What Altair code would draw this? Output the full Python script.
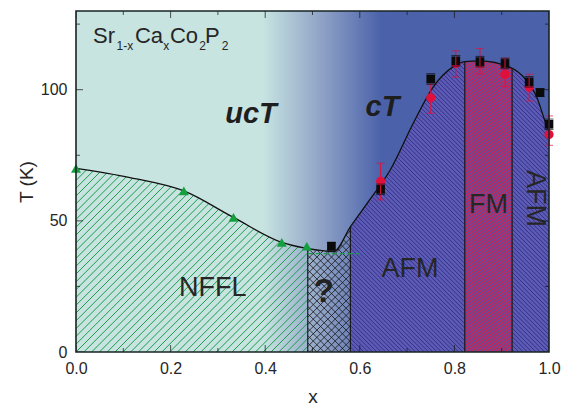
import altair as alt
import pandas as pd
import numpy as np

# ---------------- data ----------------
X_DOMAIN = [0.0, 1.0]
T_DOMAIN = [0.0, 130.0]

# green triangles (NFFL crossover)
tri_x = [0.0, 0.228, 0.333, 0.435, 0.488]
tri_T = [70.0, 61.4, 51.3, 41.8, 40.3]

# black squares with small error bars
sq_x = [0.54, 0.644, 0.75, 0.803, 0.854, 0.907, 0.958, 0.981, 1.0]
sq_T = [40.3, 62.0, 104.1, 111.0, 110.7, 110.0, 103.0, 98.9, 86.8]
sq_e = [1.5, 2.0, 2.0, 2.0, 2.0, 2.0, 2.0, 1.5, 2.0]

# red circles with error bars
rc_x = [0.644, 0.75, 0.803, 0.854, 0.907, 0.958, 1.0]
rc_T = [65.1, 96.9, 110.0, 110.0, 105.9, 100.9, 82.9]
rc_lo = [58.0, 91.0, 104.8, 106.0, 101.2, 95.7, 78.8]
rc_hi = [72.0, 102.0, 114.8, 115.7, 112.0, 105.9, 90.0]

# phase boundary line
bd_x = [0.0, 0.114, 0.228, 0.333, 0.435, 0.488, 0.545, 0.58, 0.62, 0.664,
        0.713, 0.755, 0.797, 0.822, 0.854, 0.918, 0.949, 0.974, 0.995, 1.0]
bd_T = [70.0, 66.5, 61.4, 51.3, 41.8, 39.5, 38.3, 47.7, 57.8, 69.3,
        87.2, 101.0, 108.7, 110.7, 111.0, 108.5, 104.2, 97.2, 86.4, 84.5]

# green dashed segment inside the "?" region
gd_x = [0.49, 0.60]
gd_T = [37.5, 37.5]

# phase regions
reg_name = ["NFFL", "Q", "AFM", "FM", "AFM2"]
reg_x0 = [0.0, 0.49, 0.58, 0.822, 0.922]
reg_x1 = [0.49, 0.58, 0.822, 0.922, 1.0]
# vertical region borders and where they meet the boundary
vl_x = [0.49, 0.58, 0.822, 0.922]
vl_T = [39.4, 47.7, 110.7, 108.3]

# text labels
lab_text = ["NFFL", "AFM", "FM"]
lab_x = [0.289, 0.706, 0.872]
lab_T = [21.3, 28.7, 52.9]

# axis ticks
x_major = [0.0, 0.2, 0.4, 0.6, 0.8, 1.0]
x_minor = [0.1, 0.3, 0.5, 0.7, 0.9]
y_major = [0, 50, 100]
y_minor = [25, 75, 125]

# ---------------- layout / style ----------------
W, H = 473, 341
FONT = "Liberation Sans"
TXT = "#262626"

grad = alt.LinearGradient(
    gradient="linear",
    stops=[
        alt.GradientStop(color="#c7e4e1", offset=0.0),
        alt.GradientStop(color="#c7e4e1", offset=0.395),
        alt.GradientStop(color="#8fa2c6", offset=0.52),
        alt.GradientStop(color="#4b62aa", offset=0.645),
        alt.GradientStop(color="#4b62aa", offset=1.0),
    ],
    x1=0, x2=1, y1=0, y2=0,
)

xs = alt.Scale(domain=X_DOMAIN, nice=False, zero=False)
ys = alt.Scale(domain=T_DOMAIN, nice=False, zero=False)

ax_x_lab = alt.Axis(orient="bottom", values=x_major, format=".1f", ticks=False,
                    domain=False, grid=False, labelPadding=8, labelFlush=False,
                    title="x", titleY=50, titleBaseline="alphabetic")
ax_y_lab = alt.Axis(orient="left", values=y_major, ticks=False, domain=False,
                    grid=False, labelPadding=9, labelFlush=False, title="T (K)",
                    titleX=-44, titleY=H / 2, titleAngle=-90,
                    titleBaseline="alphabetic", titleAlign="center")


def hatch(xa, xb, spacing, direction):
    """hatch segments (style) inside a vertical strip, in data units"""
    a, b = xa * W, xb * W
    rows = []
    if direction == "/":
        c = np.floor((a - H) / spacing) * spacing
        while c <= b:
            lo, hi = max(a, c), min(b, c + H)
            if hi > lo:
                rows.append((lo, lo - c, hi, hi - c))
            c += spacing
    else:
        c = np.floor(a / spacing) * spacing
        while c <= b + H:
            lo, hi = max(a, c - H), min(b, c)
            if hi > lo:
                rows.append((lo, c - lo, hi, c - hi))
            c += spacing
    df = pd.DataFrame(rows, columns=["px", "py", "px2", "py2"])
    return pd.DataFrame({"x": df.px / W, "T": df.py / H * T_DOMAIN[1],
                         "x2": df.px2 / W, "T2": df.py2 / H * T_DOMAIN[1]})


def rules(df, color, width):
    return alt.Chart(df).mark_rule(color=color, strokeWidth=width).encode(
        x=alt.X("x:Q", scale=xs, axis=None), x2="x2:Q",
        y=alt.Y("T:Q", scale=ys, axis=None), y2="T2:Q")


# background
bg_df = pd.DataFrame({"x": [X_DOMAIN[0]], "x2": [X_DOMAIN[1]],
                      "T": [T_DOMAIN[0]], "T2": [T_DOMAIN[1]]})
background = alt.Chart(bg_df).mark_rect(fill=grad).encode(
    x=alt.X("x:Q", scale=xs, axis=ax_x_lab), x2="x2:Q",
    y=alt.Y("T:Q", scale=ys, axis=ax_y_lab), y2="T2:Q")

# region tints (masked above the boundary)
reg_df = pd.DataFrame({"name": reg_name, "x": reg_x0, "x2": reg_x1,
                       "T": T_DOMAIN[0], "T2": T_DOMAIN[1]})
tint_df = reg_df[reg_df.name.isin(["AFM", "FM", "AFM2"])].copy()
tint_df["col"] = ["#5b5db4", "#5e4fa6", "#5b5db4"]
tints = alt.Chart(tint_df).mark_rect().encode(
    x=alt.X("x:Q", scale=xs, axis=None), x2="x2:Q",
    y=alt.Y("T:Q", scale=ys, axis=None), y2="T2:Q",
    color=alt.Color("col:N", scale=None))

h_nffl = rules(hatch(reg_x0[0], reg_x1[0], 7.8, "/"), "#1d9b4b", 1.0)
h_q = rules(pd.concat([hatch(reg_x0[1], reg_x1[1], 7.3, "/"),
                       hatch(reg_x0[1], reg_x1[1], 7.3, "\\")]), "#151515", 0.8)
h_afm = rules(pd.concat([hatch(reg_x0[2], reg_x1[2], 4.3, "\\"),
                         hatch(reg_x0[4], reg_x1[4], 4.3, "\\")]), "#3a2c8c", 1.0)
h_fm = rules(hatch(reg_x0[3], reg_x1[3], 3.4, "\\"), "#d42048", 1.1)

# mask above the boundary
bd_df = pd.DataFrame({"x": bd_x, "T": bd_T, "T2": T_DOMAIN[1]})
mask = alt.Chart(bd_df).mark_area(fill=grad, interpolate="monotone").encode(
    x=alt.X("x:Q", scale=xs, axis=None),
    y=alt.Y("T:Q", scale=ys, axis=None), y2="T2:Q")

vl_df = pd.DataFrame({"x": vl_x, "T": 0.0, "T2": vl_T})
vlines = alt.Chart(vl_df).mark_rule(color="#111", strokeWidth=1.1).encode(
    x=alt.X("x:Q", scale=xs, axis=None),
    y=alt.Y("T:Q", scale=ys, axis=None), y2="T2:Q")

bd_line = alt.Chart(bd_df).mark_line(color="#111", strokeWidth=1.3,
                                     interpolate="monotone").encode(
    x=alt.X("x:Q", scale=xs, axis=None), y=alt.Y("T:Q", scale=ys, axis=None))

gd_df = pd.DataFrame({"x": gd_x, "T": gd_T})
gdash = alt.Chart(gd_df).mark_line(color="#1d9b4b", strokeWidth=1.3,
                                   strokeDash=[5, 3]).encode(
    x=alt.X("x:Q", scale=xs, axis=None), y=alt.Y("T:Q", scale=ys, axis=None))

tri_df = pd.DataFrame({"x": tri_x, "T": tri_T})
tris = alt.Chart(tri_df).mark_point(shape="triangle-up", filled=True, size=100,
                                    color="#15a040", opacity=1).encode(
    x=alt.X("x:Q", scale=xs, axis=None), y=alt.Y("T:Q", scale=ys, axis=None))

rc_df = pd.DataFrame({"x": rc_x, "T": rc_T, "lo": rc_lo, "hi": rc_hi})
circles = alt.Chart(rc_df).mark_point(shape="circle", filled=True, size=85,
                                      color="#e0103c", opacity=1).encode(
    x=alt.X("x:Q", scale=xs, axis=None), y=alt.Y("T:Q", scale=ys, axis=None))
rc_bar = alt.Chart(rc_df).mark_rule(color="#e0103c", strokeWidth=1).encode(
    x=alt.X("x:Q", scale=xs, axis=None), y=alt.Y("lo:Q", scale=ys, axis=None), y2="hi:Q")
rc_cap_lo = alt.Chart(rc_df).mark_tick(color="#e0103c", orient="horizontal",
                                       size=8, thickness=1).encode(
    x=alt.X("x:Q", scale=xs, axis=None), y=alt.Y("lo:Q", scale=ys, axis=None))
rc_cap_hi = alt.Chart(rc_df).mark_tick(color="#e0103c", orient="horizontal",
                                       size=8, thickness=1).encode(
    x=alt.X("x:Q", scale=xs, axis=None), y=alt.Y("hi:Q", scale=ys, axis=None))

sq_df = pd.DataFrame({"x": sq_x, "T": sq_T,
                      "lo": np.array(sq_T) - np.array(sq_e),
                      "hi": np.array(sq_T) + np.array(sq_e)})
squares = alt.Chart(sq_df).mark_point(shape="square", filled=True, size=75,
                                      color="#0a0a0a", opacity=1).encode(
    x=alt.X("x:Q", scale=xs, axis=None), y=alt.Y("T:Q", scale=ys, axis=None))
sq_cap_hi = alt.Chart(sq_df).mark_tick(color="#0a0a0a", orient="horizontal",
                                       size=9, thickness=1).encode(
    x=alt.X("x:Q", scale=xs, axis=None), y=alt.Y("hi:Q", scale=ys, axis=None))
sq_cap_lo = alt.Chart(sq_df).mark_tick(color="#0a0a0a", orient="horizontal",
                                       size=9, thickness=1).encode(
    x=alt.X("x:Q", scale=xs, axis=None), y=alt.Y("lo:Q", scale=ys, axis=None))

# inward ticks on all four sides (half of each centred tick is clipped away)
xt_df = pd.DataFrame({"v": x_major + x_minor,
                      "len": [14] * len(x_major) + [8] * len(x_minor)})
yt_df = pd.DataFrame({"v": y_major + y_minor,
                      "len": [14] * len(y_major) + [8] * len(y_minor)})


def xticks(edge):
    return alt.Chart(xt_df).mark_tick(color="#111", orient="vertical",
                                      thickness=1, clip=True).encode(
        x=alt.X("v:Q", scale=xs, axis=None),
        y=alt.Y(datum=edge, scale=ys, axis=None),
        size=alt.Size("len:Q", scale=None))


def yticks(edge):
    return alt.Chart(yt_df).mark_tick(color="#111", orient="horizontal",
                                      thickness=1, clip=True).encode(
        y=alt.Y("v:Q", scale=ys, axis=None),
        x=alt.X(datum=edge, scale=xs, axis=None),
        size=alt.Size("len:Q", scale=None))


ticks = [xticks(T_DOMAIN[0]), xticks(T_DOMAIN[1]),
         yticks(X_DOMAIN[0]), yticks(X_DOMAIN[1])]

# texts
lab_df = pd.DataFrame({"t": lab_text, "x": lab_x, "T": lab_T})
labels = alt.Chart(lab_df).mark_text(font=FONT, fontSize=27, color=TXT,
                                     align="center", baseline="alphabetic").encode(
    x=alt.X("x:Q", scale=xs, axis=None), y=alt.Y("T:Q", scale=ys, axis=None),
    text="t:N")

rot_df = pd.DataFrame({"t": ["AFM"], "x": [0.9535], "T": [58.5]})
rot_label = alt.Chart(rot_df).mark_text(font=FONT, fontSize=27, color=TXT, angle=90,
                                        align="center", baseline="alphabetic").encode(
    x=alt.X("x:Q", scale=xs, axis=None), y=alt.Y("T:Q", scale=ys, axis=None),
    text="t:N")

ct_df = pd.DataFrame({"t": ["ucT", "cT"], "x": [0.370, 0.648], "T": [87.3, 90.0]})
ct_labels = alt.Chart(ct_df).mark_text(font=FONT, fontSize=29, fontWeight="bold",
                                       fontStyle="italic", color="#1e1e1e",
                                       align="center", baseline="alphabetic").encode(
    x=alt.X("x:Q", scale=xs, axis=None), y=alt.Y("T:Q", scale=ys, axis=None),
    text="t:N")

q_df = pd.DataFrame({"t": ["?"], "x": [0.524], "T": [19.2]})
q_label = alt.Chart(q_df).mark_text(font=FONT, fontSize=33, fontWeight="bold",
                                    color="#222", align="center",
                                    baseline="alphabetic").encode(
    x=alt.X("x:Q", scale=xs, axis=None), y=alt.Y("T:Q", scale=ys, axis=None),
    text="t:N")

f_text = ["Sr", "1-x", "Ca", "x", "Co", "2", "P", "2"]
f_x = [0.036, 0.0858, 0.1247, 0.1846, 0.1987, 0.2607, 0.2727, 0.308]
f_T = [117.9, 115.1, 117.9, 115.1, 117.9, 115.1, 117.9, 115.1]
f_size = [22, 12, 22, 12, 22, 12, 22, 12]
f_df = pd.DataFrame({"t": f_text, "x": f_x, "T": f_T, "s": f_size})
formula = alt.Chart(f_df).mark_text(font=FONT, color=TXT, align="left",
                                    baseline="alphabetic").encode(
    x=alt.X("x:Q", scale=xs, axis=None), y=alt.Y("T:Q", scale=ys, axis=None),
    text="t:N", size=alt.Size("s:Q", scale=None))

frame = alt.Chart(bg_df).mark_rect(filled=False, stroke="#182424",
                                   strokeWidth=1.6).encode(
    x=alt.X("x:Q", scale=xs, axis=None), x2="x2:Q",
    y=alt.Y("T:Q", scale=ys, axis=None), y2="T2:Q")

chart = alt.layer(
    background, tints, h_nffl, h_q, h_afm, h_fm, mask, vlines, bd_line, gdash,
    tris, circles, squares, rc_bar, rc_cap_lo, rc_cap_hi, sq_cap_hi, sq_cap_lo,
    labels, rot_label, ct_labels, q_label, formula, *ticks, frame,
).resolve_axis(x="independent", y="independent").properties(
    width=W, height=H,
    autosize=alt.AutoSizeParams(type="none"),
    padding={"left": 76, "top": 11, "right": 20, "bottom": 53},
    background="white",
).configure_view(stroke=None).configure_axis(
    labelFont=FONT, labelFontSize=16, labelColor=TXT,
    titleFont=FONT, titleFontSize=19, titleFontWeight="normal", titleColor=TXT,
)

chart.save("out.html", embed_options={"renderer": "svg", "actions": False})
